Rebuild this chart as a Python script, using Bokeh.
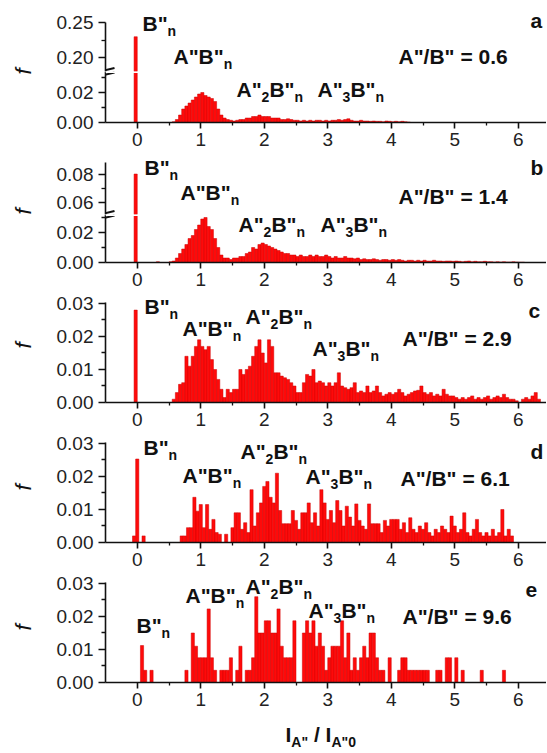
import math
from bokeh.plotting import figure
from bokeh.layouts import column, row
from bokeh.models import Label, Range1d, FixedTicker, PrintfTickFormatter, Span, Arrow
from bokeh.embed import file_html
from bokeh.resources import INLINE

# ---------------- data (histograms, f vs I_A''/I_A''0) ----------------
BIN_W = 0.05

A_X0 = -0.025
A_F = [0.230, 0, 0, 0, 0, 0, 0, 0, 0, 0, 0, 0,
       0.0005, 0.002, 0.005, 0.009, 0.011, 0.013, 0.015, 0.017, 0.019, 0.020,
       0.018, 0.017, 0.016, 0.014, 0.009, 0.005, 0.003, 0.002, 0.0015, 0.001,
       0.0015, 0.002, 0.002, 0.003, 0.003, 0.004, 0.004, 0.005, 0.004, 0.004,
       0.004, 0.003, 0.003, 0.003, 0.002, 0.002, 0.0025, 0.002, 0.0015, 0.0015,
       0.001, 0.0015, 0.001, 0.0015, 0.001, 0.0015, 0.0015, 0.001, 0.0015, 0.001,
       0.0015, 0.0015, 0.002, 0.0015, 0.002, 0.0025, 0.0015, 0.001, 0.001, 0.0015,
       0.001, 0.001, 0.0008, 0.001, 0.0008, 0.0008, 0.0005, 0.001, 0.0008, 0.0005,
       0.0008, 0.0005, 0.0008, 0.0005, 0.0003]

B_X0 = -0.025
B_F = [0.080, 0, 0, 0, 0, 0, 0,
       0.0005, 0, 0, 0, 0.0005,
       0.001, 0.003, 0.006, 0.009, 0.012, 0.016, 0.018, 0.022, 0.025, 0.029,
       0.030, 0.024, 0.022, 0.016, 0.010, 0.005, 0.003, 0.003, 0.002, 0.003,
       0.003, 0.004, 0.004, 0.006, 0.007, 0.010, 0.009, 0.012, 0.013, 0.012,
       0.011, 0.010, 0.009, 0.008, 0.007, 0.006, 0.006, 0.005, 0.005, 0.004,
       0.005, 0.004, 0.004, 0.005, 0.004, 0.005, 0.004, 0.004, 0.005, 0.004,
       0.003, 0.004, 0.003, 0.003, 0.004, 0.003, 0.003, 0.0025, 0.003, 0.002,
       0.0025, 0.002, 0.002, 0.0025, 0.002, 0.0015, 0.002, 0.002, 0.0015, 0.002,
       0.0015, 0.002, 0.0015, 0.001, 0.0015, 0.0015, 0.001, 0.0015, 0.001, 0.0015,
       0.001, 0.001, 0.0015, 0.001, 0.001, 0.0008, 0.001, 0.001, 0.0008, 0.001,
       0.0008, 0.0005, 0.0008, 0.001, 0.0005, 0.0008, 0.0005, 0.0005, 0.0008, 0.0005,
       0.0005, 0.0003, 0.0005, 0.0003, 0.0005, 0.0003, 0.0003, 0.0005, 0.0003, 0.0002,
       0.0002]

C_X0 = -0.025
C_F = [0.028, 0, 0, 0, 0, 0, 0, 0, 0, 0, 0, 0,
       0.001, 0.003, 0.0055, 0.006, 0.014, 0.011, 0.014, 0.017, 0.019, 0.017,
       0.016, 0.017, 0.013, 0.010, 0.007, 0.004, 0.0015, 0.004, 0.003, 0.004,
       0.004, 0.010, 0.0085, 0.010, 0.011, 0.014, 0.017, 0.019, 0.015, 0.012,
       0.019, 0.017, 0.009, 0.009, 0.008, 0.0075, 0.007, 0.006, 0.005, 0.003,
       0.003, 0.006, 0.0085, 0.008, 0.010, 0.006, 0.0065, 0.006, 0.005, 0.006,
       0.005, 0.006, 0.009, 0.005, 0.0045, 0.004, 0.0045, 0.006, 0.003, 0.0035,
       0.003, 0.005, 0.003, 0.0035, 0.005, 0.003, 0.002, 0.0025, 0.003, 0.0025,
       0.003, 0.004, 0.003, 0.002, 0.0025, 0.003, 0.0035, 0.0037, 0.005, 0.003,
       0.0025, 0.003, 0.002, 0.0025, 0.002, 0.004, 0.0025, 0.002, 0.002, 0.0015,
       0.001, 0.0015, 0.001, 0.0015, 0.002, 0.001, 0.0015, 0.001, 0.0015, 0.002,
       0.001, 0.0015, 0.002, 0.0015, 0.0025, 0.0015, 0.001, 0.001, 0.0005, 0,
       0.001, 0.0015, 0.001, 0.002, 0.003, 0.001]

D_X0 = -0.05
D_F = [0.002, 0.0253, 0, 0.002, 0, 0, 0, 0, 0, 0, 0, 0, 0, 0,
       0, 0.002, 0.002, 0.0045, 0.0045, 0.0137, 0.0095, 0.0115, 0.0045, 0.0115,
       0.004, 0.007, 0.003, 0.0025, 0, 0.0025, 0, 0.0045, 0.009, 0.009,
       0.004, 0.006, 0.003, 0.016, 0.005, 0.009, 0.012, 0.017, 0.0185, 0.0137,
       0.012, 0.021, 0.0097, 0.0057, 0.0057, 0.0057, 0.0097, 0.0067, 0.004, 0.009,
       0.009, 0.012, 0.006, 0.009, 0.005, 0.016, 0.012, 0.007, 0.0097, 0.006,
       0.0127, 0.0097, 0.005, 0.011, 0.0077, 0.005, 0.0117, 0.0067, 0.005, 0.004,
       0.0117, 0.0057, 0.0057, 0.0057, 0.003, 0.0067, 0.005, 0.007, 0.007, 0.007,
       0.004, 0.006, 0.003, 0.0075, 0.004, 0.003, 0.005, 0.004, 0.006, 0.003,
       0.002, 0.004, 0.003, 0.005, 0.004, 0.003, 0.008, 0.005, 0.003, 0.004,
       0.009, 0.003, 0.002, 0.004, 0.007, 0.003, 0.002, 0.003, 0.002, 0.004,
       0.002, 0.003, 0.010, 0.002, 0.004, 0.002]

E_X0 = 0.075
E_F = [0.0112, 0.0037, 0, 0.0037, 0, 0, 0, 0, 0, 0, 0, 0, 0, 0,
       0.0037, 0, 0.015, 0.011, 0.0075, 0.0075, 0.0075, 0.0223, 0.0075, 0.0037,
       0, 0.0037, 0.0037, 0.0037, 0.0075, 0, 0.0037, 0.011, 0, 0.0037,
       0.0037, 0.0075, 0.026, 0.015, 0.015, 0.0187, 0.0187, 0.015, 0.015, 0.0223,
       0.011, 0.0075, 0.0075, 0.0075, 0.0187, 0, 0, 0.015, 0.0187, 0.015,
       0.0187, 0.011, 0.015, 0.011, 0.0037, 0.0075, 0.011, 0.011, 0.011, 0.0187,
       0.0075, 0.015, 0.0037, 0.0075, 0.0037, 0.0075, 0.011, 0.0075, 0.015, 0.015,
       0.0075, 0.0037, 0.0037, 0, 0.0075, 0, 0, 0.0037, 0.0075, 0.0075,
       0.0037, 0.0037, 0.0037, 0.0037, 0.0037, 0.0037, 0.0037, 0, 0, 0.0037,
       0.0037, 0, 0.0075, 0.0075, 0, 0.0075, 0, 0.0037, 0, 0,
       0, 0, 0, 0.0037, 0, 0, 0, 0, 0, 0,
       0.0037]

X_TICKS = [0, 1, 2, 3, 4, 5, 6]
X_MINOR = [0.5, 1.5, 2.5, 3.5, 4.5, 5.5]
RATIOS = ['A"/B" = 0.6', 'A"/B" = 1.4', 'A"/B" = 2.9', 'A"/B" = 6.1', 'A"/B" = 9.6']
LETTERS = ["a", "b", "c", "d", "e"]

# rich-text labels: (text, is_subscript)
LBL_B = [('B"', 0), ("n", 1)]
LBL_AB = [('A"B"', 0), ("n", 1)]
LBL_A2B = [('A"', 0), ("2", 1), ('B"', 0), ("n", 1)]
LBL_A3B = [('A"', 0), ("3", 1), ('B"', 0), ("n", 1)]
X_TITLE = [("I", 0), ('A"', 1), (" /", 0), (" I", 0), ('A"0', 1)]

# ---------------- geometry (page pixels) ----------------
FONT = "Liberation Sans"
STRIP_W = 45              # left strip holding the rotated "f" labels
FRAME_LEFT = 105          # page px of the plot-area left edge
FRAME_W = 441
XMIN = -0.5
PXU = 63.5                # px per x unit
XMAX = XMIN + FRAME_W / PXU
PAGE_H = 752
MAIN = 21
SUB = 14
TICK_FS = "19px"
GAP = 32                  # border under each x axis
EXT = 8                   # empty frame room above each panel's axis top
MID = 0.35                # baseline -> middle-of-text offset, in em

W = {'A': 0.722, 'B': 0.722, '"': 0.474, 'n': 0.611, 'I': 0.278, '/': 0.278, ' ': 0.278,
     '=': 0.584, '.': 0.278}


def twidth(t, size):
    return sum(W.get(c, 0.556) for c in t) * size


class G:
    """Maps page pixels to the data space of one panel figure."""
    def __init__(self, fig, top, bottom, y0, y1):
        self.fig, self.top, self.bottom, self.y0, self.y1 = fig, top, bottom, y0, y1

    def xd(self, xpx):
        return XMIN + (xpx - FRAME_LEFT) / PXU

    def yd(self, ypx):
        return self.y1 - (ypx - self.top) / (self.bottom - self.top) * (self.y1 - self.y0)


def make_fig(top, bottom, y0, y1, ext, bbot, show_x, majors, minors, bounds=None):
    """Panel mapping y0..y1 onto page rows bottom..top, with `ext` px of free frame above."""
    yext = y1 + ext * (y1 - y0) / (bottom - top)
    p = figure(frame_width=FRAME_W, frame_height=bottom - top + ext,
               x_range=Range1d(XMIN, XMAX), y_range=Range1d(y0, yext),
               output_backend="svg", toolbar_location=None,
               min_border_left=FRAME_LEFT - STRIP_W, min_border_right=0,
               min_border_top=0, min_border_bottom=bbot,
               x_axis_type="linear" if show_x else None,
               y_axis_type="linear" if majors else None)
    p.outline_line_color = None
    p.grid.visible = False
    p.background_fill_color = "white"
    axes = list(p.yaxis) + list(p.xaxis)
    for ax in axes:
        ax.axis_line_width = 1.6
        ax.axis_line_color = "#111111"
        ax.major_tick_line_width = 1.6
        ax.minor_tick_line_width = 1.3
        ax.major_tick_line_color = "#111111"
        ax.minor_tick_line_color = "#111111"
        ax.major_tick_in = 0
        ax.major_tick_out = 7
        ax.minor_tick_in = 0
        ax.minor_tick_out = 4
        ax.major_label_text_font = FONT
        ax.major_label_text_font_size = TICK_FS
        ax.major_label_text_color = "#222222"
        ax.major_label_standoff = 5
    if majors:
        p.yaxis.ticker = FixedTicker(ticks=majors, minor_ticks=minors)
        p.yaxis.formatter = PrintfTickFormatter(format="%.2f")
        p.yaxis.bounds = bounds if bounds else (y0, y1)
    if show_x:
        p.xaxis.ticker = FixedTicker(ticks=X_TICKS, minor_ticks=X_MINOR)
        p.xaxis.major_tick_out = 6
        p.xaxis.minor_tick_out = 3
        p.xaxis.major_label_standoff = 4
    return p, G(p, top - ext, bottom, y0, yext)


def bars(p, x0, vals):
    xs = [x0 + BIN_W * i for i in range(len(vals))]
    p.vbar(x=xs, top=vals, bottom=0, width=BIN_W,
           fill_color="#ff0a0a", line_color="#cc0000", line_width=0.5)


def put(g, xpx, ybase, text, size, style="bold", align="left"):
    """Place text whose alphabetic baseline sits at page row ybase."""
    g.fig.add_layout(Label(x=g.xd(xpx), y=g.yd(ybase - MID * size), text=text, text_font=FONT,
                           text_font_size=f"{size}px", text_font_style=style,
                           text_align=align, text_baseline="middle",
                           text_color="#111111"))


def rich(g, xpx, ypx, parts):
    for t, sub in parts:
        size = SUB if sub else MAIN
        lead = len(t) - len(t.lstrip())
        xpx += twidth(" " * lead, size)
        t = t.lstrip()
        put(g, xpx, ypx + (5 if sub else 0), t, size)
        xpx += twidth(t, size)


def stroke(g, x0, y0, x1, y1):
    g.fig.add_layout(Arrow(start=None, end=None, x_start=g.xd(x0), y_start=g.yd(y0),
                           x_end=g.xd(x1), y_end=g.yd(y1), line_color="#111111", line_width=2))


def break_marks(g_up, g_lo, yb):
    stroke(g_up, 97, yb + 0.5, 114, yb - 3.5)
    stroke(g_lo, 97, yb + 5, 114, yb + 1)
    g_lo.fig.add_layout(Span(location=g_lo.yd(yb + 0.8), dimension="width",
                             line_color="white", line_width=1.5))


# left strip with the y-axis titles, in page coordinates
strip = figure(frame_width=STRIP_W, frame_height=PAGE_H, x_range=Range1d(0, STRIP_W),
               y_range=Range1d(PAGE_H, 0), output_backend="svg", toolbar_location=None,
               x_axis_type=None, y_axis_type=None, min_border=0)
strip.outline_line_color = None
strip.grid.visible = False
for yc in (71, 211, 345, 487, 627):
    strip.add_layout(Label(x=23, y=yc, text="f", text_font=FONT, text_font_size="22px",
                           text_font_style="italic", text_align="center", text_baseline="middle",
                           angle=math.pi / 2, text_color="#111111"))

figs = []

# panel a (broken axis)
a_up, ga_up = make_fig(22, 71, 0.18, 0.2505, 22, 0, False, [0.20, 0.25], [0.225])
a_lo, ga_lo = make_fig(71, 122, 0.0, 0.034, 0, GAP, True, [0.0, 0.02], [0.01, 0.03])
bars(a_up, A_X0, A_F)
bars(a_lo, A_X0, A_F)
break_marks(ga_up, ga_lo, 71)
rich(ga_up, 142, 30, LBL_B)
rich(ga_up, 173, 63, LBL_AB)
rich(ga_lo, 236, 96, LBL_A2B)
rich(ga_lo, 317, 96, LBL_A3B)
put(ga_up, 398, 63, RATIOS[0], MAIN)
put(ga_up, 530, 27, LETTERS[0], MAIN)
figs += [a_up, a_lo]

# panel b (broken axis): upper part 0.054..0.088 over rows 162..211, break drawn at row 214
B_BRK = 214
b_up, gb_up = make_fig(162, 211, 0.054, 0.088, EXT, 0, False, [0.06, 0.08], [0.07])
# stretch the upper figure down to the break row
b_up.frame_height = B_BRK - 162 + EXT
b_up.y_range.start = 0.054 - (B_BRK - 211) * 0.034 / 49
b_up.yaxis.bounds = (b_up.y_range.start, 0.088)
gb_up = G(b_up, 162 - EXT, B_BRK, b_up.y_range.start, b_up.y_range.end)
b_lo, gb_lo = make_fig(B_BRK, 262, 0.0, 0.034 * (262 - B_BRK) / 51, 0, GAP, True, [0.0, 0.02], [0.01, 0.03])
bars(b_up, B_X0, B_F)
bars(b_lo, B_X0, B_F)
break_marks(gb_up, gb_lo, B_BRK)
rich(gb_up, 144, 174, LBL_B)
rich(gb_up, 180, 199, LBL_AB)
rich(gb_lo, 238, 231, LBL_A2B)
rich(gb_lo, 320, 231, LBL_A3B)
put(gb_up, 398, 203, RATIOS[1], MAIN)
put(gb_up, 530, 174, LETTERS[1], MAIN)
figs += [b_up, b_lo]

# panels c, d, e
specs = [
    (302, 402, C_X0, C_F, GAP, [(LBL_B, 144, 313), (LBL_AB, 182, 335), (LBL_A2B, 245, 323), (LBL_A3B, 312, 355)], (402, 345), (528, 317)),
    (442, 542, D_X0, D_F, GAP, [(LBL_B, 143, 454), (LBL_AB, 182, 482), (LBL_A2B, 240, 458), (LBL_A3B, 305, 483)], (400, 485), (530, 458)),
    (582, 682, E_X0, E_F, 40, [(LBL_B, 136, 632), (LBL_AB, 185, 602), (LBL_A2B, 245, 593), (LBL_A3B, 308, 617)], (402, 623), (525, 597)),
]
for k, (top, bot, x0, vals, bb, labs, rpos, lpos) in enumerate(specs):
    p, g = make_fig(top, bot, 0.0, 0.0303, EXT, bb, True, [0.0, 0.01, 0.02, 0.03], [0.005, 0.015, 0.025])
    bars(p, x0, vals)
    for parts, xp, yp in labs:
        rich(g, xp, yp, parts)
    put(g, rpos[0], rpos[1], RATIOS[k + 2], MAIN)
    put(g, lpos[0], lpos[1], LETTERS[k + 2], MAIN)
    figs.append(p)

# x-axis title row: same horizontal geometry as the panels, page rows 722..752 in y
title, gt = make_fig(722, 752, 752, 722, 0, 0, False, None, None)
rich(gt, 285, 741, X_TITLE)
figs.append(title)

layout = row(strip, column(*figs, spacing=0), spacing=0)
open("out.html", "w").write(file_html(layout, INLINE))
